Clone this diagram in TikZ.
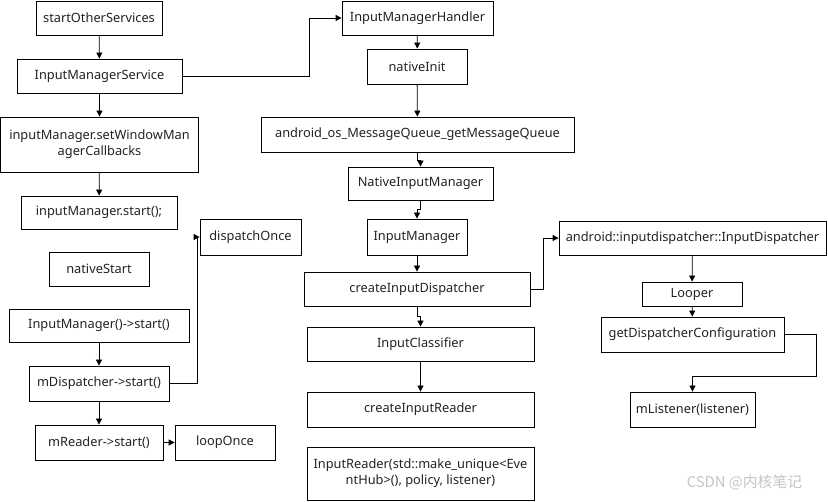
\documentclass[tikz,border=0pt]{standalone}
\usepackage{fontspec}
\setmainfont{Noto Sans}
\newfontfamily\cjk{Noto Sans CJK SC}
\usepackage{tikz}
\usetikzlibrary{arrows.meta}
\definecolor{MarkGray}{HTML}{C4C4C4}
\definecolor{InkGray}{HTML}{222222}

\begin{document}
\begin{tikzpicture}[x=1pt, y=-1pt, font=\fontsize{12.8}{16}\selectfont,
  fn/.style={draw=black, text=InkGray, line width=0.8pt, align=center, inner xsep=0pt, inner ysep=2pt},
  arr/.style={-{Triangle[length=6pt, width=6pt]}, line width=0.8pt}]
\useasboundingbox (0,0) rectangle (828,502);
%% left column: Java side and the two threads
\node[fn, minimum width=126, minimum height=34] (sos)   at (99,18)     {startOtherServices};
\node[fn, minimum width=165, minimum height=34] (ims)   at (99.5,76)   {InputManagerService};
\node[fn, minimum width=198, minimum height=55] (wmcb)  at (99.5,144.5){inputManager.setWindowMan\\agerCallbacks};
\node[fn, minimum width=156, minimum height=33] (imst)  at (99,212.5)  {inputManager.start();};
\node[fn, minimum width=100, minimum height=34] (nst)   at (99,269)    {nativeStart};
\node[fn, minimum width=180, minimum height=33] (imgr)  at (99,325.5)  {InputManager()->start()};
\node[fn, minimum width=140, minimum height=35] (mdsp)  at (99,383.5)  {mDispatcher->start()};
\node[fn, minimum width=128, minimum height=35] (mrd)   at (99,442.5)  {mReader->start()};
\node[fn, minimum width=100, minimum height=35] (loop)  at (225,442.5) {loopOnce};
\node[fn, minimum width=101, minimum height=36] (dsp1)  at (250.5,237) {dispatchOnce};
%% middle column: native init
\node[fn, minimum width=151, minimum height=34] (imh)   at (417.5,18)  {InputManagerHandler};
\node[fn, minimum width=100, minimum height=35] (ninit) at (417,66.5)  {nativeInit};
\node[fn, minimum width=313, minimum height=35] (mq)    at (417.5,134.5){android\_os\_MessageQueue\_getMessageQueue};
\node[fn, minimum width=145, minimum height=33] (nim)   at (420.5,183.5){NativeInputManager};
\node[fn, minimum width=100, minimum height=36] (im)    at (417,237)   {InputManager};
\node[fn, minimum width=226, minimum height=34] (cid)   at (417,289)   {createInputDispatcher};
\node[fn, minimum width=227, minimum height=34] (icl)   at (420.5,344) {InputClassifier};
\node[fn, minimum width=227, minimum height=35] (cir)   at (420.5,409.5){createInputReader};
\node[fn, minimum width=227, minimum height=53] (ird)   at (420.5,473.5){InputReader(std::make\_unique<Eve\\ntHub>(), policy, listener)};
%% right column: dispatcher
\node[fn, minimum width=267, minimum height=34] (idsp)  at (692.5,238) {android::inputdispatcher::InputDispatcher};
\node[fn, minimum width=100, minimum height=24] (lpr)   at (692,294)   {Looper};
\node[fn, minimum width=183, minimum height=35] (gdc)   at (692.5,334.5){getDispatcherConfiguration};
\node[fn, minimum width=125, minimum height=35] (mls)   at (692.5,409.5){mListener(listener)};
\node[text=MarkGray, font=\cjk\fontsize{14.8}{17}\selectfont] (mark) at (744.5,483) {CSDN @内核笔记};
%% connectors
\draw[arr] (sos) -- (ims);
\draw[arr] (ims) -- (wmcb);
\draw[arr] (wmcb) -- (imst);
\draw[arr] (imgr) -- (mdsp);
\draw[arr] (mdsp) -- (mrd);
\draw[arr] (mrd) -- (loop);
\draw[arr] (mdsp.east) -- ++(28,0) |- (dsp1.west);
\draw[arr] (ims.east) -- ++(127,0) |- (imh.west);
\draw[arr] (imh) -- (ninit);
\draw[arr] (ninit) -- (mq);
\draw[arr] (mq.south) -- ++(0,8) -| (nim.north);
\draw[arr] (nim.south) -- ++(0,9) -| (im.north);
\draw[arr] (im) -- (cid);
\draw[arr] (cid.south) -- ++(0,10) -| (icl.north);
\draw[arr] (icl) -- (cir);
\draw[arr] (cid.east) -- ++(13,0) |- (idsp.west);
\draw[arr] (idsp) -- (lpr);
\draw[arr] (lpr) -- (gdc);
\draw[arr] (gdc.east) -- ++(32,0) -- ++(0,41.5) -| (mls.north);
\end{tikzpicture}
\end{document}
